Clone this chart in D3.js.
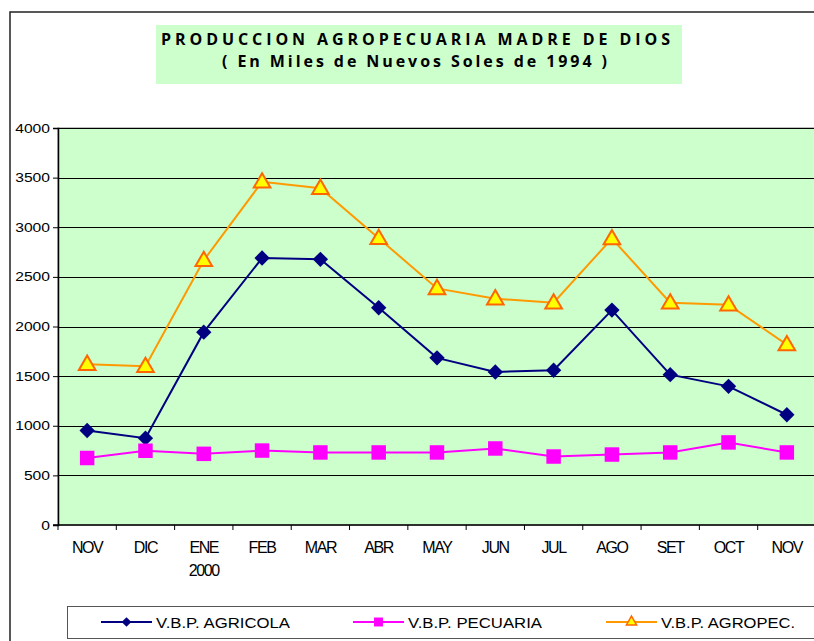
<!DOCTYPE html>
<head>
  <title>Produccion agropecuaria Madre de Dios</title>
</head>
<meta charset="utf-8">

<script src="https://d3js.org/d3.v7.min.js"></script>

<style>
body { margin: 0; background: #fff; }
text { font-family: "Liberation Sans", Arial, sans-serif; }
</style>

<div id="my_dataviz"></div>

<script>

// data
var months = ["NOV", "DIC", "ENE", "FEB", "MAR", "ABR", "MAY", "JUN", "JUL", "AGO", "SET", "OCT", "NOV "];
var agricola = [952, 875, 1943, 2690, 2677, 2189, 1684, 1542, 1559, 2165, 1515, 1397, 1111];
var pecuaria = [675, 748, 717, 750, 731, 731, 731, 771, 690, 710, 731, 832, 731];
var agropec = [1620, 1599, 2667, 3458, 3394, 2889, 2384, 2280, 2239, 2886, 2239, 2219, 1818];
var yTicks = [0, 500, 1000, 1500, 2000, 2500, 3000, 3500, 4000];
var seriesNames = ["V.B.P. AGRICOLA", "V.B.P. PECUARIA", "V.B.P. AGROPEC."];

var W = 814, H = 641;
var plot = {left: 58, top: 128, width: 758, height: 397};

var svg = d3.select("#my_dataviz")
  .append("svg")
    .attr("width", W)
    .attr("height", H);

// outer chart frame
svg.append("rect")
  .attr("x", 10).attr("y", 12)
  .attr("width", W + 20).attr("height", H + 20)
  .attr("fill", "#fff")
  .attr("stroke", "#222")
  .attr("stroke-width", 1.5);

// title box
svg.append("rect")
  .attr("x", 156).attr("y", 25)
  .attr("width", 526).attr("height", 59)
  .attr("fill", "#ccffcc");

svg.append("text")
  .attr("x", 161).attr("y", 45)
  .attr("textLength", 509)
  .attr("lengthAdjust", "spacing")
  .style("font-family", "'Open Sans', sans-serif")
  .style("font-weight", "bold")
  .style("font-size", "16px")
  .text("PRODUCCION AGROPECUARIA MADRE DE DIOS");

svg.append("text")
  .attr("x", 222).attr("y", 67)
  .attr("textLength", 385)
  .attr("lengthAdjust", "spacing")
  .style("font-family", "'Open Sans', sans-serif")
  .style("font-weight", "bold")
  .style("font-size", "16px")
  .text("( En Miles de Nuevos Soles de 1994 )");

// scales
var x = d3.scaleBand()
  .domain(months)
  .range([plot.left, plot.left + plot.width]);

var y = d3.scaleLinear()
  .domain([0, 4000])
  .range([plot.top + plot.height, plot.top]);

// plot area
svg.append("rect")
  .attr("x", plot.left).attr("y", plot.top)
  .attr("width", plot.width).attr("height", plot.height)
  .attr("fill", "#ccffcc")
  .attr("stroke", "#808080")
  .attr("stroke-width", 1);

// gridlines
svg.append("g")
  .selectAll("line")
  .data(yTicks.filter(function(d){ return d > 0; }))
  .enter()
  .append("line")
    .attr("x1", plot.left).attr("x2", plot.left + plot.width)
    .attr("y1", function(d){ return Math.round(y(d)) + 0.5; })
    .attr("y2", function(d){ return Math.round(y(d)) + 0.5; })
    .attr("stroke", "#000")
    .attr("stroke-width", 1);

// Y axis
var yAxis = svg.append("g")
  .attr("transform", "translate(" + plot.left + ",0)")
  .call(d3.axisLeft(y).tickValues(yTicks).tickFormat(d3.format("d")).tickSize(5).tickPadding(3));
yAxis.select(".domain").attr("stroke", "#000").attr("stroke-width", 1.5);
yAxis.selectAll("line").attr("stroke", "#000");
// the labels in the picture are short and wide
yAxis.selectAll("text")
  .style("font-size", "12.5px")
  .attr("textLength", function(d){ return String(d).length * 8.7; })
  .attr("lengthAdjust", "spacingAndGlyphs")
  .attr("fill", "#000");

// X axis, ticks at category boundaries
var xAxis = svg.append("g")
  .attr("transform", "translate(0," + (plot.top + plot.height) + ")");
xAxis.append("line")
  .attr("x1", plot.left - 5).attr("x2", plot.left + plot.width)
  .attr("stroke", "#000").attr("stroke-width", 1.5);
xAxis.selectAll(".tk")
  .data(months)
  .enter()
  .append("line")
    .attr("x1", function(d){ return x(d); })
    .attr("x2", function(d){ return x(d); })
    .attr("y1", 0).attr("y2", 5)
    .attr("stroke", "#000");
xAxis.selectAll(".lbl")
  .data(months)
  .enter()
  .append("text")
    .attr("x", function(d){ return x(d) + x.bandwidth() / 2; })
    .attr("y", 28)
    .attr("text-anchor", "middle")
    .style("font-size", "16px")
    .style("letter-spacing", "-1.4px")
    .text(function(d){ return d.trim(); });
xAxis.append("text")
  .attr("x", x("ENE") + x.bandwidth() / 2)
  .attr("y", 51)
  .attr("text-anchor", "middle")
  .style("font-size", "16px")
  .style("letter-spacing", "-1.4px")
  .text("2000");

// lines and markers
var cx = function(d, i){ return x(months[i]) + x.bandwidth() / 2; };
var line = d3.line()
  .x(cx)
  .y(function(d){ return y(d); });

var diamond = d3.symbol().type(d3.symbolDiamond2).size(150);
var square = d3.symbol().type(d3.symbolSquare).size(210);
var triangle = d3.symbol().type(d3.symbolTriangle).size(120);

function drawSeries(values, color, width) {
  svg.append("path")
    .datum(values)
    .attr("d", line)
    .attr("fill", "none")
    .attr("stroke", color)
    .attr("stroke-width", width);
}

drawSeries(agropec, "#ff9900", 2);
drawSeries(agricola, "#000080", 2);
drawSeries(pecuaria, "#ff00ff", 2);

svg.append("g").selectAll("path")
  .data(agricola).enter()
  .append("path")
    .attr("d", diamond)
    .attr("transform", function(d, i){ return "translate(" + cx(d, i) + "," + y(d) + ")"; })
    .attr("fill", "#000080");

svg.append("g").selectAll("path")
  .data(pecuaria).enter()
  .append("path")
    .attr("d", square)
    .attr("transform", function(d, i){ return "translate(" + cx(d, i) + "," + y(d) + ")"; })
    .attr("fill", "#ff00ff");

svg.append("g").selectAll("path")
  .data(agropec).enter()
  .append("path")
    .attr("d", triangle)
    .attr("transform", function(d, i){ return "translate(" + cx(d, i) + "," + (y(d) + 1) + ")"; })
    .attr("fill", "#ffff00")
    .attr("stroke", "#ff6600")
    .attr("stroke-width", 2);

// legend
svg.append("rect")
  .attr("x", 67.5).attr("y", 606.5)
  .attr("width", 780).attr("height", 32)
  .attr("fill", "#fff")
  .attr("stroke", "#555")
  .attr("stroke-width", 1);

var legendX = [101, 353, 606];
var legendColors = ["#000080", "#ff00ff", "#ff9900"];
var legendSymbols = [d3.symbol().type(d3.symbolDiamond2).size(60),
                     d3.symbol().type(d3.symbolSquare).size(80),
                     d3.symbol().type(d3.symbolTriangle).size(45)];
var legend = svg.selectAll(".legend")
  .data(seriesNames)
  .enter()
  .append("g")
    .attr("transform", function(d, i){ return "translate(" + legendX[i] + ",622)"; });
legend.append("line")
  .attr("x1", 0).attr("x2", 51)
  .attr("stroke", function(d, i){ return legendColors[i]; })
  .attr("stroke-width", 2);
legend.append("path")
  .attr("d", function(d, i){ return legendSymbols[i](); })
  .attr("transform", "translate(25.5,0)")
  .attr("fill", function(d, i){ return i == 2 ? "#ffff00" : legendColors[i]; })
  .attr("stroke", function(d, i){ return i == 2 ? "#ff6600" : "none"; })
  .attr("stroke-width", 1.5);
legend.append("text")
  .attr("x", 55)
  .attr("y", 5.5)
  .attr("textLength", 134)
  .attr("lengthAdjust", "spacingAndGlyphs")
  .style("font-size", "15px")
  .text(function(d){ return d; });

</script>
